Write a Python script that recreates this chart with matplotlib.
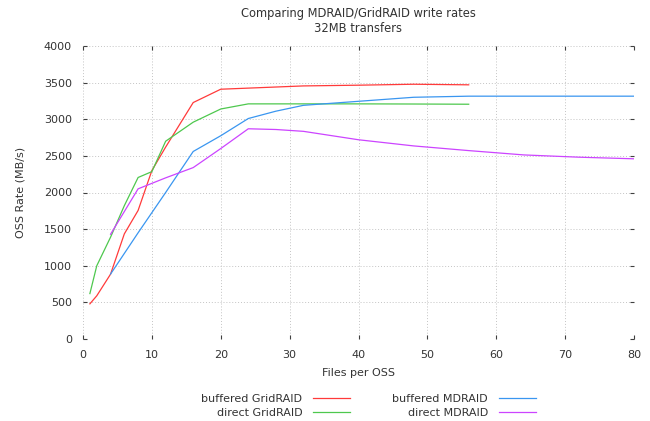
import numpy as np
from matplotlib import pyplot as plt

# buffered / direct GridRAID runs
grid_x = [1, 2, 4, 6, 8, 10, 12, 16, 20, 24, 32, 40, 48, 56]
grid_buffered = [480, 590, 885, 1435, 1755, 2300, 2620, 3228, 3410, 3425, 3455, 3465, 3478, 3470]
grid_direct = [620, 1000, 1390, 1820, 2205, 2285, 2700, 2960, 3140, 3210, 3210, 3210, 3208, 3205]

# buffered / direct MDRAID runs
md_x = [4, 8, 12, 16, 20, 24, 28, 32, 40, 48, 56, 64, 72, 80]
md_buffered = [886, 1450, 2000, 2560, 2775, 3010, 3110, 3190, 3245, 3300, 3315, 3315, 3315, 3315]
md_direct = [1430, 2050, 2200, 2340, 2600, 2870, 2860, 2835, 2720, 2636, 2572, 2513, 2482, 2460]

plt.rcParams['font.family'] = 'DejaVu Sans'
plt.rcParams['font.size'] = 8

fig = plt.figure(figsize=(6.5, 4.21), dpi=100)
ax = fig.add_axes([83 / 650, 1 - 339 / 421, (634 - 83) / 650, (339 - 46) / 421])

ax.plot(grid_x, grid_buffered, color='#ff3a3a', lw=0.9, label='buffered GridRAID')
ax.plot(grid_x, grid_direct, color='#4ec84e', lw=0.9, label='direct GridRAID')
ax.plot(md_x, md_buffered, color='#3a96f0', lw=0.9, label='buffered MDRAID')
ax.plot(md_x, md_direct, color='#cc44ff', lw=0.9, label='direct MDRAID')

ax.set_xlim(0, 80)
ax.set_ylim(0, 4000)
ax.set_xticks(np.arange(0, 81, 10))
ax.set_yticks(np.arange(0, 4001, 500))
ax.grid(True, color='#c4c4c4', linestyle=(0, (1, 2)), linewidth=0.7)
for s in ax.spines.values():
    s.set_visible(False)
ax.tick_params(direction='in', length=3, color='#404040', labelcolor='#333333',
               top=True, right=True, pad=8)

ax.set_xlabel('Files per OSS', color='#333333', labelpad=6)
ax.set_ylabel('OSS Rate (MB/s)', color='#333333', labelpad=13)
ax.set_title('Comparing MDRAID/GridRAID write rates\n32MB transfers', color='#333333',
             fontsize=8.3, pad=10, linespacing=1.25)

# legend: two columns, text to the left of the sample line
handles, labels = ax.get_legend_handles_labels()
fig.legend(handles, labels, ncol=2,
           markerfirst=False, frameon=False, loc='center',
           bbox_to_anchor=((200 + 537) / 2 / 650, 1 - 406 / 421),
           handlelength=3.3, handletextpad=1.0, columnspacing=3.8,
           labelspacing=0.35, borderpad=0, labelcolor='#333333')

fig.savefig('out.png', dpi=100)
